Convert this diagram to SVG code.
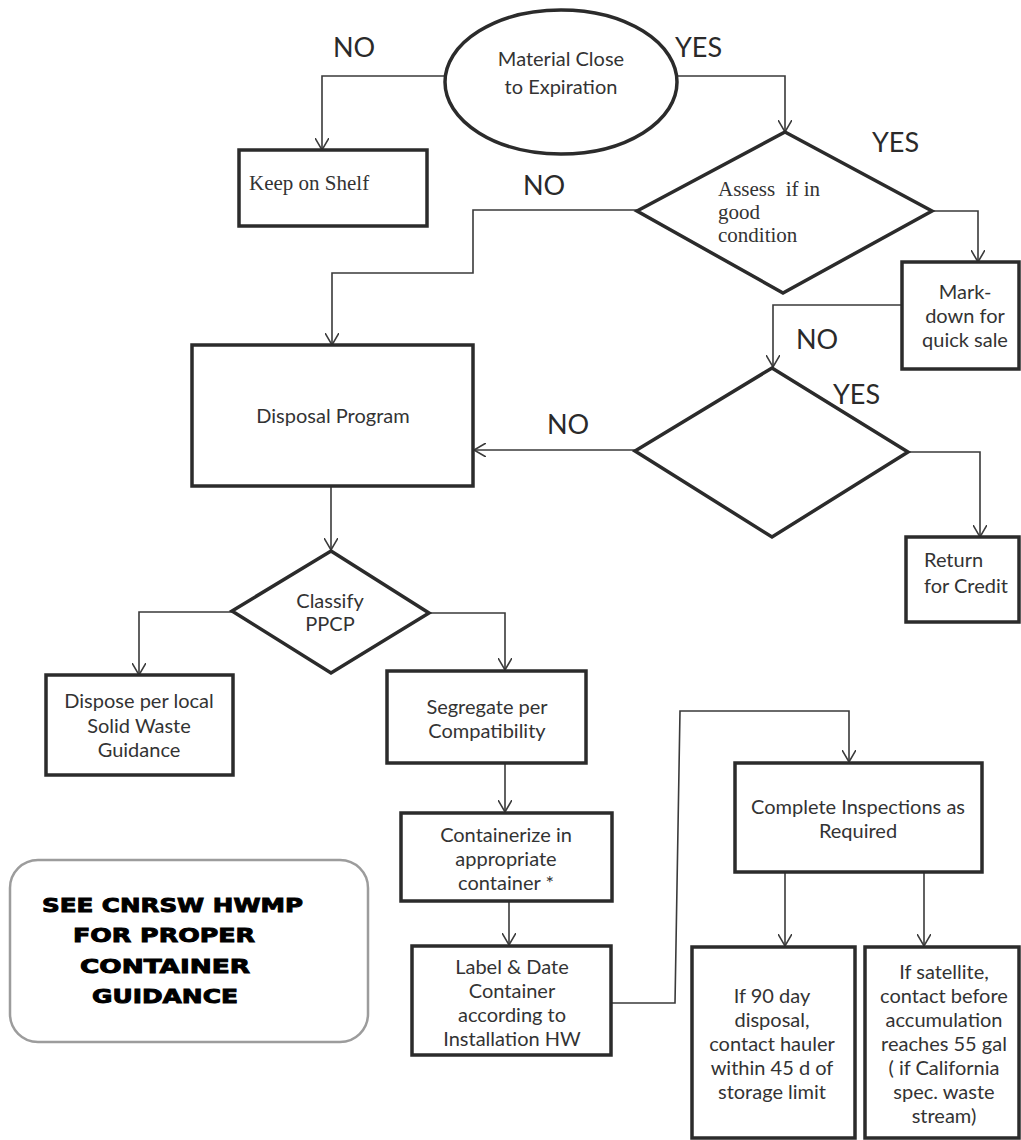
<svg xmlns="http://www.w3.org/2000/svg" width="1021" height="1140" viewBox="0 0 1021 1140">
<defs>
<marker id="arr" viewBox="0 0 14 14" refX="12" refY="7" markerWidth="14" markerHeight="14" markerUnits="userSpaceOnUse" orient="auto">
<path d="M0,0 L12,7 L0,14" fill="none" stroke="#3a3a3a" stroke-width="1.6"/>
</marker>
</defs>
<style>
.box{fill:#fff;stroke:#2b2b2b;stroke-width:3.5}
.note{fill:#fff;stroke:#9c9c9c;stroke-width:2.5}
.ln{fill:none;stroke:#3a3a3a;stroke-width:1.6;marker-end:url(#arr)}
.t{font-family:Lato,"Open Sans",sans-serif;font-size:20px;fill:#333;text-anchor:middle}
.tl{font-family:Lato,"Open Sans",sans-serif;font-size:20px;fill:#333}
.s{font-family:"Liberation Serif","Times New Roman",serif;font-size:21px;fill:#333}
.lab{font-family:Lato,"Open Sans",sans-serif;font-size:27px;fill:#2a2a2a}
.bk{font-family:"DejaVu Sans",sans-serif;font-weight:bold;font-size:19px;fill:#000;stroke:#000;stroke-width:0.9}
</style>
<rect width="1021" height="1140" fill="#fff"/>

<g id="connectors">
<path class="ln" d="M446,76 H322 V150"/>
<path class="ln" d="M677,76 H785 V132"/>
<path class="ln" d="M637,210 H473 V273 H332 V345"/>
<path class="ln" d="M932,211 H978 V262"/>
<path class="ln" d="M902,305 H773 V367"/>
<path class="ln" d="M635,450 H474"/>
<path class="ln" d="M908,452 H980 V537"/>
<path class="ln" d="M331,486 V550"/>
<path class="ln" d="M232,612 H139 V675"/>
<path class="ln" d="M429,613 H505 V670"/>
<path class="ln" d="M505,763 V812"/>
<path class="ln" d="M509,901 V945"/>
<path class="ln" d="M611,1003 H675 L680,711 H849 V762"/>
<path class="ln" d="M785,872 V946"/>
<path class="ln" d="M924,872 V946"/>
</g>

<g id="labels">
<text class="lab" x="333" y="57">NO</text>
<text class="lab" x="675" y="57">YES</text>
<text class="lab" x="872" y="152">YES</text>
<text class="lab" x="523" y="195">NO</text>
<text class="lab" x="796" y="349">NO</text>
<text class="lab" x="833" y="404">YES</text>
<text class="lab" x="547" y="434">NO</text>
</g>

<g id="n-expiration">
<ellipse class="box" cx="561" cy="82" rx="116" ry="72"/>
<text class="t" x="561" y="66">Material Close</text>
<text class="t" x="561" y="94">to Expiration</text>
</g>

<g id="n-keep">
<rect class="box" x="239" y="150" width="188" height="76"/>
<text class="s" x="249" y="190">Keep on Shelf</text>
</g>

<g id="n-assess">
<polygon class="box" points="785,132 932,211 783,293 637,211"/>
<text class="s" x="718" y="196" xml:space="preserve">Assess  if in</text>
<text class="s" x="718" y="219">good</text>
<text class="s" x="718" y="242">condition</text>
</g>

<g id="n-markdown">
<rect class="box" x="902" y="262" width="117" height="107"/>
<text class="t" x="965" y="299">Mark-</text>
<text class="t" x="965" y="323">down for</text>
<text class="t" x="965" y="347">quick sale</text>
</g>

<g id="n-disposal">
<rect class="box" x="192" y="345" width="281" height="141"/>
<text class="t" x="333" y="423">Disposal Program</text>
</g>

<g id="n-decision">
<polygon class="box" points="772,368 908,452 772,537 635,451"/>
</g>

<g id="n-return">
<rect class="box" x="906" y="537" width="113" height="85"/>
<text class="tl" x="924" y="567">Return</text>
<text class="tl" x="924" y="593">for Credit</text>
</g>

<g id="n-classify">
<polygon class="box" points="331,551 429,613 331,673 232,611"/>
<text class="t" x="330" y="608">Classify</text>
<text class="t" x="330" y="631">PPCP</text>
</g>

<g id="n-dispose">
<rect class="box" x="46" y="675" width="187" height="100"/>
<text class="t" x="139" y="708">Dispose per local</text>
<text class="t" x="139" y="733">Solid Waste</text>
<text class="t" x="139" y="757">Guidance</text>
</g>

<g id="n-segregate">
<rect class="box" x="387" y="671" width="199" height="92"/>
<text class="t" x="487" y="714">Segregate per</text>
<text class="t" x="487" y="738">Compatibility</text>
</g>

<g id="n-containerize">
<rect class="box" x="401" y="813" width="211" height="88"/>
<text class="t" x="506" y="842">Containerize in</text>
<text class="t" x="506" y="866">appropriate</text>
<text class="t" x="506" y="890">container *</text>
</g>

<g id="n-label">
<rect class="box" x="412" y="946" width="199" height="109"/>
<text class="t" x="512" y="974">Label &amp; Date</text>
<text class="t" x="512" y="998">Container</text>
<text class="t" x="512" y="1022">according to</text>
<text class="t" x="512" y="1046">Installation HW</text>
</g>

<g id="n-inspections">
<rect class="box" x="735" y="763" width="247" height="109"/>
<text class="t" x="858" y="814">Complete Inspections as</text>
<text class="t" x="858" y="838">Required</text>
</g>

<g id="n-90day">
<rect class="box" x="692" y="947" width="163" height="191"/>
<text class="t" x="772" y="1003">If 90 day</text>
<text class="t" x="772" y="1027">disposal,</text>
<text class="t" x="772" y="1051">contact hauler</text>
<text class="t" x="772" y="1075">within 45 d of</text>
<text class="t" x="772" y="1099">storage limit</text>
</g>

<g id="n-satellite">
<rect class="box" x="865" y="947" width="154" height="191"/>
<text class="t" x="944" y="979">If satellite,</text>
<text class="t" x="944" y="1003">contact before</text>
<text class="t" x="944" y="1027">accumulation</text>
<text class="t" x="944" y="1051">reaches 55 gal</text>
<text class="t" x="944" y="1075">( if California</text>
<text class="t" x="944" y="1099">spec. waste</text>
<text class="t" x="944" y="1123">stream)</text>
</g>

<g id="n-note">
<rect class="note" x="10" y="860" width="358" height="182" rx="28"/>
<text class="bk" x="42" y="912" textLength="261" lengthAdjust="spacingAndGlyphs">SEE CNRSW HWMP</text>
<text class="bk" x="73" y="942" textLength="182" lengthAdjust="spacingAndGlyphs">FOR PROPER</text>
<text class="bk" x="80" y="973" textLength="170" lengthAdjust="spacingAndGlyphs">CONTAINER</text>
<text class="bk" x="92" y="1003" textLength="146" lengthAdjust="spacingAndGlyphs">GUIDANCE</text>
</g>
</svg>
